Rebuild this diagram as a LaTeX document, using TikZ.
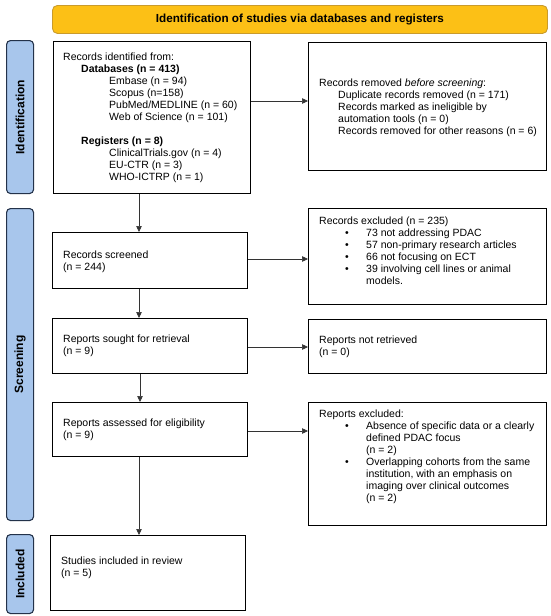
\documentclass[tikz,border=0pt]{standalone}
\usepackage{fontspec}
\setmainfont{Liberation Sans}
\usetikzlibrary{arrows.meta}
\definecolor{hdrfill}{HTML}{FCC016}
\definecolor{hdrdraw}{HTML}{C99B2C}
\definecolor{lblfill}{HTML}{A8C6EC}
\definecolor{lbldraw}{HTML}{23324A}
\definecolor{arrowcol}{HTML}{333333}
\tikzset{
  box/.style={draw=black, line width=1.1pt, inner sep=0pt, anchor=north west},
  txt/.style={anchor=north west, inner sep=0pt, align=left, font=\fontsize{10.5}{12}\selectfont},
  lbl/.style={draw=lbldraw, fill=lblfill, line width=1.1pt, rounded corners=4pt, inner sep=0pt, anchor=north west},
  lbltxt/.style={rotate=90, font=\fontsize{12}{14}\selectfont\bfseries, inner sep=0pt},
  hdr/.style={draw=hdrdraw, fill=hdrfill, line width=0.9pt, rounded corners=5pt, inner sep=0pt, anchor=north west},
  arr/.style={draw=arrowcol, line width=0.6pt, -{Triangle[length=6pt,width=5.5pt]}}
}
\newcommand{\bul}{\makebox[47pt][l]{\hspace*{26pt}•}}
\newcommand{\ind}[1]{\hspace*{#1pt}}
\begin{document}
\begin{tikzpicture}[x=1pt,y=-1pt]
\useasboundingbox (0,0) rectangle (550,616);
% header
\node[hdr, minimum width=495pt, minimum height=28pt] (hdr) at (52,5) {};
\node[font=\fontsize{11.7}{14}\selectfont\bfseries, inner sep=0pt] (hdrtxt) at (hdr.center) {Identification of studies via databases and registers};
% side labels
\node[lbl, minimum width=27pt, minimum height=153pt] (lid) at (6,40) {};
\node[lbltxt] (lidt) at (lid.center) {Identification};
\node[lbl, minimum width=27pt, minimum height=312pt] (lsc) at (6,208) {};
\node[lbltxt] (lsct) at (lsc.center) {Screening};
\node[lbl, minimum width=27pt, minimum height=79pt] (lin) at (6,534) {};
\node[lbltxt] (lint) at (lin.center) {Included};
% left boxes
\node[box, minimum width=197pt, minimum height=152pt] (b1) at (53,41) {};
\node[txt] (b1t) at (63,52) {\strut Records identified from:\\
\ind{18}\textbf{Databases (n = 413)}\\
\ind{46}Embase (n = 94)\\
\ind{46}Scopus (n=158)\\
\ind{46}PubMed/MEDLINE (n = 60)\\
\ind{46}Web of Science (n = 101)\\
\mbox{}\\
\ind{18}\textbf{Registers (n = 8)}\\
\ind{46}ClinicalTrials.gov (n = 4)\\
\ind{46}EU-CTR (n = 3)\\
\ind{46}WHO-ICTRP (n = 1)};
\node[box, minimum width=195pt, minimum height=56pt] (b2) at (52,232) {};
\node[txt] (b2t) at (63,250) {\strut Records screened\\(n = 244)};
\node[box, minimum width=195pt, minimum height=55pt] (b3) at (52,318) {};
\node[txt] (b3t) at (63,334) {\strut Reports sought for retrieval\\(n = 9)};
\node[box, minimum width=195pt, minimum height=54pt] (b4) at (52,402) {};
\node[txt] (b4t) at (63,418) {\strut Reports assessed for eligibility\\(n = 9)};
\node[box, minimum width=195pt, minimum height=75pt] (b5) at (50,535) {};
\node[txt] (b5t) at (61,556) {\strut Studies included in review\\(n = 5)};
% right boxes
\node[box, minimum width=238pt, minimum height=128pt] (r1) at (308,42) {};
\node[txt] (r1t) at (319,78) {\strut Records removed \textit{before screening}:\\
\ind{19}Duplicate records removed (n = 171)\\
\ind{19}Records marked as ineligible by\\
\ind{19}automation tools (n = 0)\\
\ind{19}Records removed for other reasons (n = 6)};
\node[box, minimum width=238pt, minimum height=96pt] (r2) at (308,208) {};
\node[txt] (r2t) at (319,216) {\strut Records excluded (n = 235)\\
\bul 73 not addressing PDAC\\
\bul 57 non-primary research articles\\
\bul 66 not focusing on ECT\\
\bul 39 involving cell lines or animal\\
\ind{47}models.};
\node[box, minimum width=238pt, minimum height=54pt] (r3) at (308,319) {};
\node[txt] (r3t) at (319,335) {\strut Reports not retrieved\\(n = 0)};
\node[box, minimum width=238pt, minimum height=123pt] (r4) at (308,402) {};
\node[txt] (r4t) at (319,409) {\strut Reports excluded:\\
\bul Absence of specific data or a clearly\\
\ind{47}defined PDAC focus\\
\ind{47}(n = 2)\\
\bul Overlapping cohorts from the same\\
\ind{47}institution, with an emphasis on\\
\ind{47}imaging over clinical outcomes\\
\ind{47}(n = 2)};
% vertical arrows
\draw[arr] (b1.south -| 139,0) -- (b2.north -| 139,0);
\draw[arr] (b2.south -| 139,0) -- (b3.north -| 139,0);
\draw[arr] (b3.south -| 140,0) -- (b4.north -| 140,0);
\draw[arr] (b4.south -| 139,0) -- (b5.north -| 139,0);
% horizontal arrows
\draw[arr] (b1.east |- 0,101) -- (r1.west |- 0,101);
\draw[arr] (b2.east |- 0,259) -- (r2.west |- 0,259);
\draw[arr] (b3.east |- 0,347) -- (r3.west |- 0,347);
\draw[arr] (b4.east |- 0,431) -- (r4.west |- 0,431);
\end{tikzpicture}
\end{document}
